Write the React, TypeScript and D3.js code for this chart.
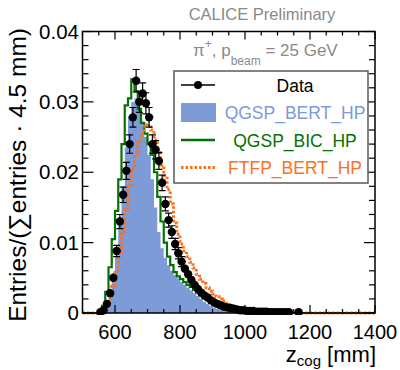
import React from 'react';
import * as d3 from 'd3';

const W = 400;
const H = 370;

// histogram binning (mm): bins of 10 mm starting at binStart
const binStart = 550;
const binWidth = 10;
const rangeMin = 500;
const rangeMax = 1400;

// Data (bin centres 555, 565, ...)
const dataVals = [
  0.0001, 0.0004, 0.0013, 0.0028, 0.0050, 0.0088, 0.0130, 0.0168, 0.0202, 0.0240,
  0.0278, 0.0330, 0.0300, 0.0312, 0.0298, 0.0278, 0.0240, 0.0232, 0.0216, 0.0185,
  0.0155, 0.0132, 0.0115, 0.0098, 0.0085, 0.0073, 0.0063, 0.0055, 0.0047, 0.0040,
  0.0034, 0.0029, 0.0025, 0.0022, 0.0018, 0.0015, 0.0013, 0.0011, 0.0009, 0.0008,
  0.0007, 0.0006, 0.0005, 0.0004, 0.0004, 0.0003, 0.0003, 0.0003, 0.0002, 0.0002,
  0.0002, 0.0002, 0.0001, 0.0001, 0.0001, 0.0001, 0.0001, 0.0001, 0.0001, 0, 0, 0.0001,
];
const dataErr = [
  0.0001, 0.0002, 0.0003, 0.0004, 0.0006, 0.0008, 0.0010, 0.0011, 0.0012, 0.0013,
  0.0014, 0.0016, 0.0015, 0.0015, 0.0015, 0.0014, 0.0013, 0.0013, 0.0012, 0.0011,
  0.0010, 0.0010, 0.0009, 0.0008, 0.0008, 0.0007, 0.0006, 0.0006, 0.0005, 0.0005,
  0.0004, 0.0004, 0.0004, 0.0003, 0.0003, 0.0003, 0.0003, 0.0002, 0.0002, 0.0002,
  0.0002, 0.0002, 0.0002, 0.0001, 0.0001, 0.0001, 0.0001, 0.0001, 0.0001, 0.0001,
  0.0001, 0.0001, 0.0001, 0.0001, 0.0001, 0.0001, 0.0001, 0.0001, 0.0001, 0, 0, 0.0001,
];
const bertVals = [
  0, 0.0002, 0.0008, 0.0022, 0.0045, 0.0080, 0.0125, 0.0180, 0.0235, 0.0280,
  0.0300, 0.0305, 0.0292, 0.0272, 0.0250, 0.0225, 0.0190, 0.0150, 0.0115, 0.0092,
  0.0078, 0.0068, 0.0060, 0.0054, 0.0049, 0.0044, 0.0040, 0.0036, 0.0032, 0.0028,
  0.0024, 0.0020, 0.0016, 0.0013, 0.0010, 0.0008, 0.0006, 0.0005, 0.0004, 0.0003,
  0.0002, 0.0002, 0.0001, 0.0001,
];
const bicVals = [
  0.0002, 0.0010, 0.0030, 0.0065, 0.0105, 0.0145, 0.0190, 0.0240, 0.0295, 0.0305,
  0.0332, 0.0315, 0.0290, 0.0270, 0.0255, 0.0240, 0.0225, 0.0200, 0.0165, 0.0130,
  0.0100, 0.0080, 0.0068, 0.0058, 0.0052, 0.0048, 0.0044, 0.0040, 0.0037, 0.0033,
  0.0029, 0.0025, 0.0022, 0.0019, 0.0016, 0.0013, 0.0010, 0.0008, 0.0006, 0.0005,
  0.0004, 0.0003, 0.0002, 0.0002, 0.0001,
];
const ftfpVals = [
  0, 0.0002, 0.0008, 0.0020, 0.0038, 0.0060, 0.0085, 0.0115, 0.0148, 0.0180,
  0.0205, 0.0225, 0.0242, 0.0255, 0.0265, 0.0267, 0.0260, 0.0246, 0.0228, 0.0210,
  0.0195, 0.0175, 0.0155, 0.0128, 0.0112, 0.0098, 0.0088, 0.0080, 0.0072, 0.0064,
  0.0055, 0.0048, 0.0042, 0.0036, 0.0031, 0.0027, 0.0023, 0.0020, 0.0017, 0.0014,
  0.0012, 0.0010, 0.0008, 0.0007, 0.0006, 0.0005, 0.0004, 0.0003, 0.0002, 0.0002,
  0.0001, 0.0001,
];

const xTicks = [600, 800, 1000, 1200, 1400];
const yTicks = [0, 0.01, 0.02, 0.03, 0.04];
const yTickLabels = ['0', '0.01', '0.02', '0.03', '0.04'];
const legendLabels = ['Data', 'QGSP_BERT_HP', 'QGSP_BIC_HP', 'FTFP_BERT_HP'];

const BLUE = '#7d9bd6';
const GREEN = '#037203';
const ORANGE = '#ff701c';
const GRAY = '#8a8a8a';
const FONT = "'Liberation Sans', Arial, Helvetica, sans-serif";

const L = 82.5, R = 375, T = 31.5, B = 313;
const x = d3.scaleLinear().domain([rangeMin, rangeMax]).range([L, R]);
const y = d3.scaleLinear().domain([0, 0.04]).range([B, T]);

function stepPath(vals: number[]): string {
  const p = d3.path();
  p.moveTo(x(rangeMin), y(0));
  p.lineTo(x(binStart), y(0));
  vals.forEach((v, i) => {
    const x0 = binStart + i * binWidth;
    p.lineTo(x(x0), y(v));
    p.lineTo(x(x0 + binWidth), y(v));
  });
  const end = binStart + vals.length * binWidth;
  p.lineTo(x(end), y(0));
  p.lineTo(x(rangeMax), y(0));
  return p.toString();
}

function areaPath(vals: number[]): string {
  return stepPath(vals) + 'Z';
}

export default function App() {
  const xMinor = d3.range(rangeMin, rangeMax + 1, 50);
  const yMinor = d3.range(0, 0.04001, 0.002);
  const points = dataVals
    .map((v, i) => ({ c: binStart + binWidth / 2 + i * binWidth, v, e: dataErr[i] }))
    .filter((d) => d.v > 0);

  const legX0 = 174, legY0 = 71, legX1 = 368, legY1 = 183;
  const rowY = [85, 112.5, 140, 167.5];
  const symX0 = 181, symX1 = 215;
  const txtX = 295;

  return (
    <svg width={W} height={H} style={{ position: 'absolute', left: 0, top: 0, background: '#fff' }} fontFamily={FONT}>
      <rect x={0} y={0} width={W} height={H} fill="#fff" />
      {/* title */}
      <text x={262} y={20} textAnchor="middle" fontSize={16.5} fill={GRAY}>CALICE Preliminary</text>

      <defs>
        <clipPath id="frame">
          <rect x={L} y={T} width={R - L} height={B - T + 2} />
        </clipPath>
      </defs>

      <g clipPath="url(#frame)">
        <path d={areaPath(bertVals)} fill={BLUE} stroke="none" />
        <path d={stepPath(bicVals)} fill="none" stroke={GREEN} strokeWidth={2.2} />
        <path d={stepPath(ftfpVals)} fill="none" stroke={ORANGE} strokeWidth={3} strokeDasharray="2.5 2" />
        {points.map((d, i) => (
          <g key={i}>
            <line x1={x(d.c)} x2={x(d.c)} y1={y(d.v - d.e)} y2={y(d.v + d.e)} stroke="#000" strokeWidth={1.2} />
            {d.e > 0.0006 && (
              <>
                <line x1={x(d.c) - 3.5} x2={x(d.c) + 3.5} y1={y(d.v + d.e)} y2={y(d.v + d.e)} stroke="#000" strokeWidth={1.2} />
                <line x1={x(d.c) - 3.5} x2={x(d.c) + 3.5} y1={y(d.v - d.e)} y2={y(d.v - d.e)} stroke="#000" strokeWidth={1.2} />
                <line x1={x(d.c) - 4} x2={x(d.c) + 4} y1={y(d.v)} y2={y(d.v)} stroke="#000" strokeWidth={1.2} />
              </>
            )}
            <circle cx={x(d.c)} cy={y(d.v)} r={4.2} fill="#000" />
          </g>
        ))}
      </g>

      {/* frame */}
      <rect x={L} y={T} width={R - L} height={B - T} fill="none" stroke="#000" strokeWidth={1.5} />

      {/* x ticks */}
      {xMinor.map((t) => {
        const major = xTicks.includes(t);
        const len = major ? 8 : 4;
        return (
          <g key={'xt' + t}>
            <line x1={x(t)} x2={x(t)} y1={B} y2={B - len} stroke="#000" strokeWidth={1.2} />
            <line x1={x(t)} x2={x(t)} y1={T} y2={T + len} stroke="#000" strokeWidth={1.2} />
          </g>
        );
      })}
      {xTicks.map((t) => (
        <text key={'xl' + t} x={x(t)} y={339} textAnchor="middle" fontSize={20} fill="#000">{t}</text>
      ))}

      {/* y ticks */}
      {yMinor.map((t, i) => {
        const major = i % 5 === 0;
        const len = major ? 11 : 6;
        return (
          <g key={'yt' + i}>
            <line x1={L} x2={L + len} y1={y(t)} y2={y(t)} stroke="#000" strokeWidth={1.2} />
            <line x1={R} x2={R - len} y1={y(t)} y2={y(t)} stroke="#000" strokeWidth={1.2} />
          </g>
        );
      })}
      {yTicks.map((t, i) => (
        <text key={'yl' + i} x={79} y={y(t) + 7} textAnchor="end" fontSize={20.5} fill="#000">{yTickLabels[i]}</text>
      ))}

      {/* axis titles */}
      <text x={376} y={362} textAnchor="end" fontSize={22} fill="#000">
        z<tspan fontSize={15} dy={4}>cog</tspan><tspan dy={-4}> [mm]</tspan>
      </text>
      <text transform="translate(26,28) rotate(-90)" textAnchor="end" fontSize={24.5} fill="#000">
        Entries/(∑entries · 4.5 mm)
      </text>

      {/* annotation */}
      <text x={193} y={56} fontSize={17} fill={GRAY}>
        π<tspan fontSize={12} dy={-8}>+</tspan><tspan dy={8}>, p</tspan><tspan fontSize={12} dy={9}>beam</tspan><tspan dy={-9}> = 25 GeV</tspan>
      </text>

      {/* legend */}
      <rect x={legX0} y={legY0} width={legX1 - legX0} height={legY1 - legY0} fill="#fff" stroke="#5a5a5a" strokeWidth={1.5} />
      <line x1={symX0} x2={symX1} y1={rowY[0]} y2={rowY[0]} stroke="#000" strokeWidth={1.5} />
      <circle cx={(symX0 + symX1) / 2} cy={rowY[0]} r={4} fill="#000" />
      <rect x={symX0} y={rowY[1] - 9.5} width={symX1 - symX0 + 1} height={19} fill={BLUE} />
      <line x1={symX0} x2={symX1} y1={rowY[2]} y2={rowY[2]} stroke={GREEN} strokeWidth={2.5} />
      <line x1={symX0} x2={symX1} y1={rowY[3]} y2={rowY[3]} stroke={ORANGE} strokeWidth={3} strokeDasharray="2.5 2" />
      {legendLabels.map((lab, i) => (
        <text key={lab} x={txtX} y={rowY[i] + 6.5} textAnchor="middle" fontSize={17.5}
          fill={[ '#000', BLUE, GREEN, ORANGE ][i]}>{lab}</text>
      ))}
    </svg>
  );
}
